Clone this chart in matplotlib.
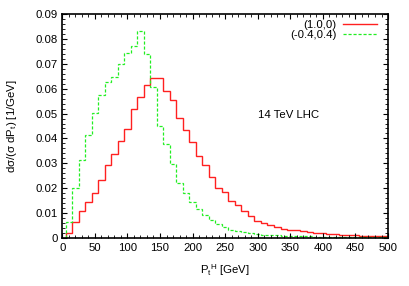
import matplotlib
matplotlib.use("Agg")
import matplotlib.pyplot as plt
import numpy as np

plt.rcParams['font.family'] = ['Liberation Sans', 'DejaVu Sans']
plt.rcParams['mathtext.default'] = 'regular'

# bin centres in GeV (10 GeV wide bins)
centres = np.arange(10, 501, 10)

# (1.0,0) - red solid
red_vals = [0.0020, 0.0063, 0.0107, 0.0143, 0.0182, 0.0232, 0.0292, 0.0339, 0.0390, 0.0436,
            0.0518, 0.0567, 0.0615, 0.0645, 0.0645, 0.0591, 0.0555, 0.0483, 0.0435, 0.0385,
            0.0329, 0.0293, 0.0246, 0.0202, 0.0183, 0.0148, 0.0132, 0.0108, 0.0087, 0.0067,
            0.0058, 0.0051, 0.0044, 0.0037, 0.0032, 0.0029, 0.0025, 0.0022, 0.0020, 0.0018,
            0.0015, 0.0013, 0.0012, 0.0010, 0.0009, 0.0008, 0.0007, 0.0006, 0.0006, 0.0005]

# (-0.4,0.4) - green dashed
green_vals = [0.0065, 0.0199, 0.0312, 0.0412, 0.0501, 0.0575, 0.0628, 0.0649, 0.0700, 0.0743,
              0.0773, 0.0833, 0.0740, 0.0607, 0.0448, 0.0377, 0.0296, 0.0222, 0.0179, 0.0145,
              0.0114, 0.0091, 0.0071, 0.0057, 0.0043, 0.0033, 0.0027, 0.0021, 0.0018, 0.0015,
              0.0012, 0.0010, 0.0009, 0.0008, 0.0007, 0.0006, 0.0005, 0.0005, 0.0004, 0.0004,
              0.0003, 0.0003, 0.0003, 0.0002, 0.0002, 0.0002, 0.0002, 0.0001, 0.0001, 0.0001]

labels = ['(1.0,0)', '(-0.4,0.4)']

edges = np.append(centres - 5, centres[-1] + 5)
fs = 8.2

fig = plt.figure(figsize=(4.09, 2.86), dpi=100)
ax = fig.add_axes([0.1523, 0.1689, 0.7964, 0.7811])

ax.stairs(red_vals, edges, baseline=0, color='#ff2020', lw=1.0, label=labels[0])
ax.stairs(green_vals, edges, baseline=0, color='#22ee22', lw=0.9,
          linestyle=(0, (2.5, 1.5)), label=labels[1])

ax.set_xlim(0, 500)
ax.set_ylim(0, 0.09)
ax.set_xticks(np.arange(0, 501, 50))
ax.set_xticks(np.arange(0, 501, 10), minor=True)
ax.set_yticks(np.arange(0, 0.0901, 0.01))
ax.set_yticks(np.arange(0, 0.0901, 0.002), minor=True)
ax.set_yticklabels(['0'] + ['%.2f' % v for v in np.arange(0.01, 0.0901, 0.01)])

ax.tick_params(which='both', direction='in', top=True, right=True, labelsize=fs, pad=3.5)
ax.tick_params(which='major', length=3.5, width=0.8)
ax.tick_params(which='minor', length=2, width=0.6)
for s in ax.spines.values():
    s.set_linewidth(1.2)

ax.set_xlabel(r'P$_t$$^H$ [GeV]', fontsize=fs, labelpad=7)
ax.set_ylabel(r'd$\sigma$/($\sigma$ dP$_t$) [1/GeV]', fontsize=fs, labelpad=12)

ax.text(300, 0.0495, '14 TeV LHC', fontsize=fs, ha='left', va='center')

ax.legend(loc='upper right', frameon=False, markerfirst=False, fontsize=fs,
          handlelength=3.0, handletextpad=0.6, labelspacing=0.0,
          borderaxespad=0.1, bbox_to_anchor=(0.985, 1.0))

fig.savefig('out.png', dpi=100)
